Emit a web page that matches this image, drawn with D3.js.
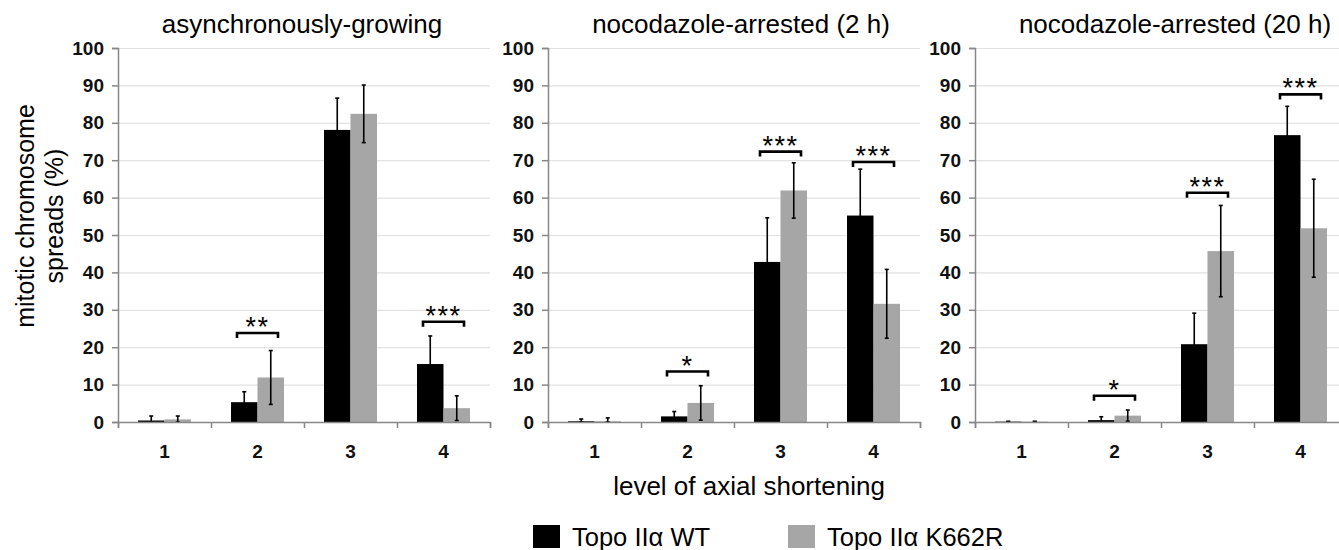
<!DOCTYPE html>
<html>
<head>
<meta charset="utf-8">
<script src="https://cdn.jsdelivr.net/npm/d3@7"></script>
<style>
  body { margin: 0; background: #fff; }
  svg { display: block; font-family: "Liberation Sans", Arial, Helvetica, sans-serif; }
</style>
</head>
<body>
<div id="chart"></div>
<script>
// data (percent of mitotic chromosome spreads)
const categories = ["1", "2", "3", "4"];
const seriesNames = ["Topo II\u03b1 WT", "Topo II\u03b1 K662R"];
const panelTitles = ["asynchronously-growing", "nocodazole-arrested (2 h)", "nocodazole-arrested (20 h)"];
const yTicks = [0, 10, 20, 30, 40, 50, 60, 70, 80, 90, 100];

const wtMean = [[0.4, 5.3, 78.1, 15.5], [0.2, 1.5, 42.8, 55.2], [0.1, 0.5, 20.8, 76.7]];
const wtErr  = [[1.2, 2.8, 8.5, 7.5],  [0.6, 1.3, 11.8, 12.4], [0.1, 0.9, 8.3, 7.7]];
const k662rMean = [[0.7, 11.9, 82.4, 3.7], [0.2, 5.1, 61.9, 31.6], [0.1, 1.7, 45.7, 51.8]];
const k662rErr  = [[0.9, 7.2, 7.7, 3.3],  [0.9, 4.6, 7.4, 9.2],  [0.1, 1.5, 12.2, 13.1]];

// significance brackets per panel
const sigCategory = [["2", "4"], ["2", "3", "4"], ["2", "3", "4"]];
const sigLevel    = [[23.8, 26.8], [13.5, 72.3, 69.5], [7.0, 61.3, 87.6]];
const sigLabel    = [["**", "***"], ["*", "***", "***"], ["*", "***", "***"]];

const colors = ["#000000", "#a6a6a6"];

// layout
const W = 1339, H = 550;
const panelLeft = [118, 548, 975];
const titleCenter = [302, 741, 1175];
const pw = 372, plotTop = 48, plotBottom = 422;

const svg = d3.select("#chart").append("svg")
  .attr("width", W).attr("height", H);
svg.append("rect").attr("width", W).attr("height", H).attr("fill", "#fff");

const y = d3.scaleLinear().domain([0, 100]).range([plotBottom - plotTop, 0]);
const x0 = d3.scaleBand().domain(categories).range([0, pw]);
const x1 = d3.scaleBand().domain(seriesNames)
  .range([x0.bandwidth() * 0.215, x0.bandwidth() * 0.785]);
const xEdge = d3.scaleLinear().domain([0, categories.length]).range([0, pw]);

panelTitles.forEach((title, p) => {
  const g = svg.append("g").attr("transform", `translate(${panelLeft[p]},${plotTop})`);

  // gridlines
  g.append("g")
    .call(d3.axisLeft(y).tickValues(yTicks.slice(1)).tickSize(-pw).tickFormat(""))
    .call(s => s.select(".domain").remove())
    .call(s => s.selectAll("line").attr("stroke", "#e2e2e2").attr("stroke-width", 1.2));

  // bars
  const rows = categories.map((c, i) => ({
    cat: c,
    vals: [
      {s: seriesNames[0], v: wtMean[p][i], e: wtErr[p][i], c: colors[0]},
      {s: seriesNames[1], v: k662rMean[p][i], e: k662rErr[p][i], c: colors[1]}
    ]
  }));

  const cat = g.selectAll(".cat").data(rows).enter().append("g")
    .attr("transform", d => `translate(${x0(d.cat)},0)`);

  cat.selectAll("rect").data(d => d.vals).enter().append("rect")
    .attr("x", d => x1(d.s))
    .attr("width", x1.bandwidth())
    .attr("y", d => y(d.v))
    .attr("height", d => y(0) - y(d.v))
    .attr("fill", d => d.c);

  // error bars
  const eb = cat.selectAll(".err").data(d => d.vals).enter().append("g")
    .attr("transform", d => `translate(${x1(d.s) + x1.bandwidth() / 2},0)`);
  eb.append("line")
    .attr("y1", d => y(Math.max(0, d.v - d.e)))
    .attr("y2", d => y(d.v + d.e))
    .attr("stroke", "#000").attr("stroke-width", 1.6);
  eb.append("line")
    .attr("x1", -2).attr("x2", 2)
    .attr("y1", d => y(d.v + d.e)).attr("y2", d => y(d.v + d.e))
    .attr("stroke", "#000").attr("stroke-width", 1.6);
  eb.append("line")
    .attr("x1", -2).attr("x2", 2)
    .attr("y1", d => y(Math.max(0, d.v - d.e))).attr("y2", d => y(Math.max(0, d.v - d.e)))
    .attr("stroke", "#000").attr("stroke-width", 1.6);

  // significance brackets
  sigCategory[p].forEach((c, k) => {
    const cx = x0(c) + x0.bandwidth() / 2;
    const by = y(sigLevel[p][k]);
    g.append("path")
      .attr("d", `M${cx - 20.5},${by + 5}V${by}H${cx + 20.5}V${by + 5}`)
      .attr("fill", "none").attr("stroke", "#000").attr("stroke-width", 2.6);
    g.append("text")
      .attr("x", cx).attr("y", by + 3)
      .attr("text-anchor", "middle")
      .attr("font-size", 27)
      .attr("letter-spacing", 1.5)
      .text(sigLabel[p][k]);
  });

  // y axis
  g.append("g")
    .call(d3.axisLeft(y).tickValues(yTicks).tickSize(6).tickPadding(8))
    .call(s => s.select(".domain").attr("stroke", "#888").attr("stroke-width", 1.5))
    .call(s => s.selectAll(".tick line").attr("stroke", "#888").attr("stroke-width", 1.5))
    .call(s => s.selectAll("text").attr("font-size", 19).attr("font-weight", "bold")
      .attr("font-family", "Liberation Sans, Arial, sans-serif").attr("fill", "#111"));

  // x axis: labels at category centres, ticks at boundaries
  const xa = g.append("g").attr("transform", `translate(0,${y(0)})`);
  xa.call(d3.axisBottom(x0).tickSize(0).tickPadding(23))
    .call(s => s.select(".domain").remove())
    .call(s => s.selectAll("text").attr("font-size", 19).attr("font-weight", "bold")
      .attr("font-family", "Liberation Sans, Arial, sans-serif").attr("fill", "#111"));
  xa.append("g")
    .call(d3.axisBottom(xEdge).tickValues(d3.range(categories.length + 1)).tickSize(6).tickFormat(""))
    .call(s => s.select(".domain").attr("stroke", "#888").attr("stroke-width", 1.5))
    .call(s => s.selectAll(".tick line").attr("stroke", "#888").attr("stroke-width", 1.5));

  // panel title
  svg.append("text")
    .attr("x", titleCenter[p]).attr("y", 33)
    .attr("text-anchor", "middle")
    .attr("font-size", 26)
    .text(title);
});

// y axis label
const yl = svg.append("text")
  .attr("transform", "translate(0,216) rotate(-90)")
  .attr("text-anchor", "middle")
  .attr("font-size", 25);
yl.append("tspan").attr("x", 0).attr("y", 34).text("mitotic chromosome");
yl.append("tspan").attr("x", 0).attr("y", 63).text("spreads (%)");

// x axis label
svg.append("text")
  .attr("x", 749).attr("y", 495)
  .attr("text-anchor", "middle")
  .attr("font-size", 26)
  .text("level of axial shortening");

// legend
const legendX = [533, 788];
const leg = svg.selectAll(".leg").data(seriesNames).enter().append("g")
  .attr("transform", (d, i) => `translate(${legendX[i]},525)`);
leg.append("rect").attr("width", 27).attr("height", 23).attr("fill", (d, i) => colors[i]);
leg.append("text").attr("x", 39).attr("y", 21).attr("font-size", 25.5).text(d => d);
</script>
</body>
</html>
